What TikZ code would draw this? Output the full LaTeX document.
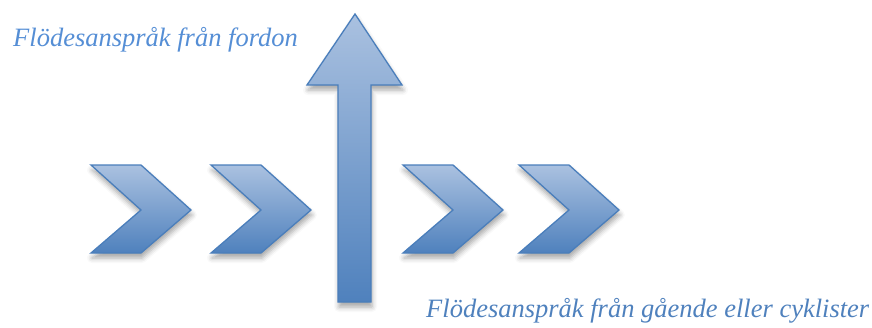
\documentclass[tikz,border=0pt]{standalone}
\usepackage{fontspec}
\setmainfont{Liberation Serif}
\usetikzlibrary{shadows.blur}
\definecolor{shapeline}{RGB}{74,126,187}
\definecolor{shapetop}{RGB}{170,193,224}
\definecolor{shapebot}{RGB}{79,129,189}
\definecolor{textlight}{RGB}{85,142,213}
\definecolor{textdark}{RGB}{79,129,189}
\tikzset{
  blueshape/.style={draw=shapeline, line width=1.3pt, line join=miter,
    top color=shapetop, bottom color=shapebot,
    blur shadow={shadow xshift=1pt, shadow yshift=-5pt, shadow blur radius=5pt, shadow opacity=35}},
  label/.style={font=\fontsize{26.5}{30}\selectfont\itshape, inner sep=0pt, anchor=base west}
}
\begin{document}
\begin{tikzpicture}[x=1pt,y=-1pt]
\useasboundingbox (0,0) rectangle (872,327);
% chevrons
\foreach \x in {91,211,403,519}{
  \path[blueshape] (\x,165) -- ++(50,0) -- ++(50,45) -- ++(-50,43) -- ++(-50,0) -- ++(50,-43) -- cycle;
}
% up arrow
\path[blueshape] (355,14) -- (402,85) -- (371,85) -- (371,302) -- (338,302) -- (338,85) -- (307,85) -- cycle;
% texts
\node[label, text=textlight] (vehicles) at (13,46) {Flödesanspråk från fordon};
\node[label, text=textdark] (pedestrians) at (426,317) {Flödesanspråk från gående eller cyklister};
\end{tikzpicture}
\end{document}
